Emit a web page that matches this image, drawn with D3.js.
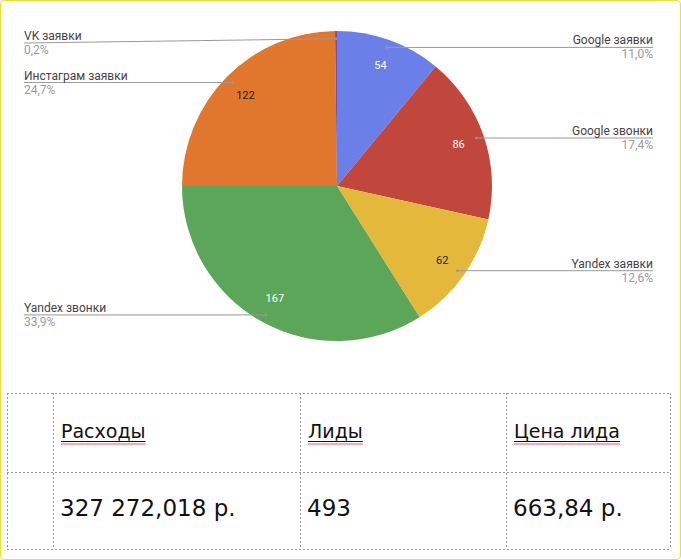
<!DOCTYPE html>
<html><head><meta charset="utf-8">
<script src="https://cdn.jsdelivr.net/npm/d3@7"></script>
<style>
body{margin:0;background:#fff;}
#frame{position:absolute;left:0;top:0;width:679px;height:558px;border:1px solid #f1dd3a;border-radius:4px;}
</style></head>
<body><div id="frame"></div><svg id="vis" width="681" height="560" style="position:absolute;left:0;top:0"></svg>
<script>
var categories = ["Google заявки","Google звонки","Yandex заявки","Yandex звонки","Инстаграм заявки","VK заявки"];
var values = [54, 86, 62, 167, 122, 1];
var percents = ["11,0%","17,4%","12,6%","33,9%","24,7%","0,2%"];
var colors = ["#6b7fe9","#c1473d","#e4b93b","#5ca65a","#e0772c","#7b4e9f"];
var valueColors = ["#fff","#fff","#222","#fff","#222","#fff"];
var headers = ["Расходы","Лиды","Цена лида"];
var totals = ["327 272,018 р.","493","663,84 р."];

var cx = 337, cy = 186, r = 155;
var svg = d3.select("#vis");
var g = svg.append("g").attr("transform","translate("+cx+","+cy+")");

var pie = d3.pie().sort(null).value(function(d){return d;});
var arcs = pie(values);
var arc = d3.arc().innerRadius(0).outerRadius(r);

g.selectAll("path.slice").data(arcs).enter().append("path")
  .attr("d", arc).attr("fill", function(d,i){return colors[i];});

function pt(d, k){
  var a = (d.startAngle + d.endAngle)/2;
  return [Math.sin(a)*r*k, -Math.cos(a)*r*k];
}

// values
g.selectAll("text.val").data(arcs).enter().append("text")
  .filter(function(d){return d.value > 5;})
  .attr("x", function(d){return pt(d,0.83)[0];})
  .attr("y", function(d){return pt(d,0.83)[1];})
  .attr("dy","0.35em").attr("text-anchor","middle")
  .attr("font-family","Roboto").attr("font-size",11)
  .attr("fill", function(d){return valueColors[d.index];})
  .text(function(d){return d.value;});

// leader lines + labels
arcs.forEach(function(d,i){
  var p = pt(d,0.95);
  var ex = cx+p[0], ey = cy+p[1];
  var right = ex >= cx && i < 3;
  var ly = Math.max(ey, 43);
  var lx = right ? 653 : 24;
  svg.append("line").attr("x1",lx).attr("y1",ly).attr("x2",ex).attr("y2",ey)
    .attr("stroke","#999").attr("stroke-width",1);
  svg.append("circle").attr("cx",ex).attr("cy",ey).attr("r",1.3).attr("fill","#999");
  var anchor = right ? "end" : "start";
  svg.append("text").attr("x",lx).attr("y",ly-3).attr("text-anchor",anchor)
    .attr("font-family","Roboto").attr("font-size",12).attr("fill","#444").text(categories[i]);
  svg.append("text").attr("x",lx).attr("y",ly+11).attr("text-anchor",anchor)
    .attr("font-family","Roboto").attr("font-size",12).attr("fill","#9a9a9a").text(percents[i]);
});

// table
var colX = [7, 53, 300, 506, 670], rowY = [393, 472, 549];
var tg = svg.append("g").attr("stroke","#999").attr("stroke-dasharray","2,2").attr("stroke-width",1);
colX.forEach(function(x){ tg.append("line").attr("x1",x+0.5).attr("x2",x+0.5).attr("y1",rowY[0]).attr("y2",rowY[2]); });
rowY.forEach(function(y){ tg.append("line").attr("x1",colX[0]).attr("x2",colX[4]).attr("y1",y+0.5).attr("y2",y+0.5); });

headers.forEach(function(h,i){
  var x = colX[i+1]+8;
  var t = svg.append("text").attr("x",x).attr("y",438).attr("font-family","DejaVu Sans")
    .attr("font-size",19).attr("fill","#111").text(h);
  var w = t.node().getComputedTextLength();
  svg.append("line").attr("x1",x).attr("x2",x+w).attr("y1",441.5).attr("y2",441.5).attr("stroke","#111");
  svg.append("line").attr("x1",x).attr("x2",x+w).attr("y1",444).attr("y2",444).attr("stroke","#d33").attr("stroke-width",0.8);
});
totals.forEach(function(v,i){
  svg.append("text").attr("x",colX[i+1]+7).attr("y",516).attr("font-family","DejaVu Sans")
    .attr("font-size",23).attr("fill","#111").text(v);
});
</script></body></html>
